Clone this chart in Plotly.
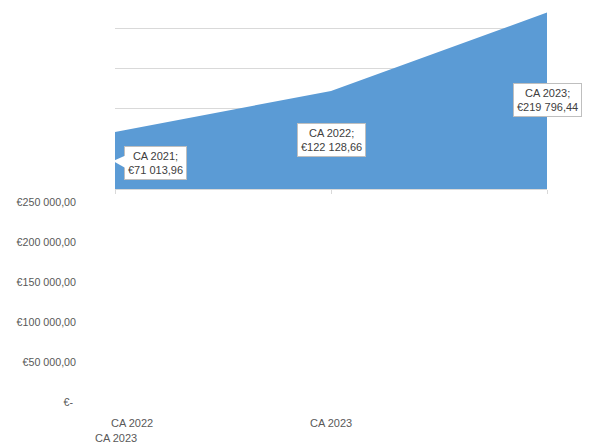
import plotly.graph_objects as go

# Turnover per year
categories = ["CA 2021", "CA 2022", "CA 2023"]
turnover = [71013.96, 122128.66, 219796.44]
label_texts = ["CA 2021;<br>€71 013,96", "CA 2022;<br>€122 128,66", "CA 2023;<br>€219 796,44"]

# Value axis ticks
value_ticks = [0, 50000, 100000, 150000, 200000, 250000]
value_tick_labels = ["€-\u00a0", "€50 000,00", "€100 000,00", "€150 000,00",
                     "€200 000,00", "€250 000,00"]

# Category labels drawn below the value labels
cat_label_texts = ["CA 2022", "CA 2023", "CA 2023"]
cat_label_x = [0, 1, 0]

W, H = 595, 445
FONT = "Liberation Sans"
TXT = "#595959"
BLUE = "#5B9BD5"

fig = go.Figure()

fig.add_trace(go.Scatter(
    x=[0, 1, 2], y=turnover,
    mode="lines", fill="tozeroy",
    line=dict(color=BLUE, width=0),
    fillcolor=BLUE,
    hoverinfo="skip", showlegend=False,
))

# empty trace that carries the lower value axis
fig.add_trace(go.Scatter(x=[], y=[], xaxis="x2", yaxis="y2", showlegend=False))

label_font = dict(family=FONT, size=11, color="#404040")

# first callout, with a pointer towards the left edge
fig.add_annotation(
    x=0, y=turnover[0], xref="x", yref="y",
    text=label_texts[0], showarrow=True, ax=42, ay=2,
    xshift=-2, yshift=-29,
    arrowhead=2, arrowsize=3, arrowwidth=1, arrowcolor="white",
    standoff=0, startstandoff=0,
    bgcolor="white", bordercolor="#BFBFBF", borderwidth=1, borderpad=3,
    font=label_font,
)
# other callouts sit below their points
for i, dy in [(1, 49), (2, 87)]:
    fig.add_annotation(
        x=i, y=turnover[i], xref="x", yref="y",
        text=label_texts[i], showarrow=False, yshift=-dy,
        bgcolor="white", bordercolor="#BFBFBF", borderwidth=1, borderpad=3,
        font=label_font,
    )

# category labels at the bottom
cat_label_y = [16 / H, 16 / H, 1 / H]
cat_label_shift = [17, 0, 1]
for t, xv, yv, xs in zip(cat_label_texts, cat_label_x, cat_label_y, cat_label_shift):
    fig.add_annotation(
        x=xv, y=yv, xref="x", yref="paper", text=t, showarrow=False,
        xshift=xs, yanchor="middle", xanchor="center",
        font=dict(family=FONT, size=11, color=TXT),
    )

fig.update_layout(
    width=W, height=H,
    margin=dict(l=0, r=0, t=0, b=0),
    paper_bgcolor="white", plot_bgcolor="white",
    font=dict(family=FONT, size=10, color=TXT),
    xaxis=dict(
        domain=[115 / W, 547 / W], range=[0, 2],
        tickvals=[0, 1, 2], showticklabels=False,
        ticks="outside", ticklen=4, tickcolor="#D9D9D9",
        showline=True, linecolor="#D9D9D9", linewidth=1,
        showgrid=False, zeroline=False, anchor="y",
    ),
    yaxis=dict(
        domain=[1 - 188 / H, 1], range=[0, 228000],
        tickvals=value_ticks, showticklabels=False,
        showgrid=True, gridcolor="#D9D9D9", gridwidth=1,
        zeroline=False, showline=False, anchor="x",
    ),
    xaxis2=dict(
        domain=[77 / W, 547 / W], range=[0, 1], visible=False, anchor="y2",
    ),
    yaxis2=dict(
        domain=[(H - 407) / H, (H - 202) / H], range=[0, 250000],
        tickvals=value_ticks, ticktext=value_tick_labels,
        tickfont=dict(family=FONT, size=10.7, color=TXT),
        showgrid=False, zeroline=False, showline=False, ticks="",
        anchor="x2",
    ),
)

fig.write_html("out.html")
